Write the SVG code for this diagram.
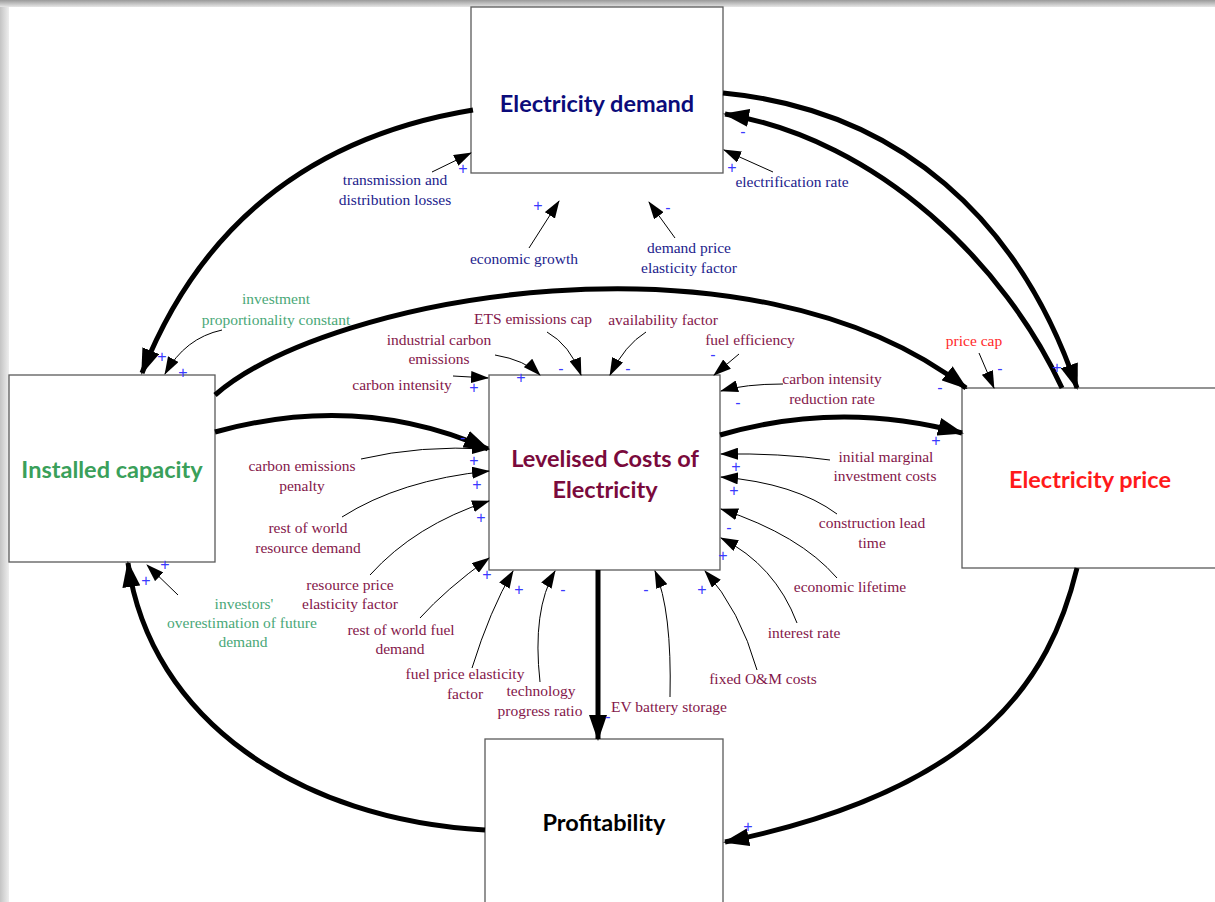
<svg xmlns="http://www.w3.org/2000/svg" width="1215" height="902" viewBox="0 0 1215 902">
<style>
.box{fill:#fff;stroke:#5a5a5a;stroke-width:1.3}
.big{font-family:Lato,"Liberation Sans",sans-serif;font-weight:bold;font-size:23.5px;text-anchor:middle}
.lbl{font-family:"Liberation Serif","Times New Roman",serif;font-size:15.5px;text-anchor:middle}
.navy{fill:#22228c}
.mar{fill:#84174a}
.grn{fill:#4aa878}
.red{fill:#ff2a2a}
.sg{font-family:"Liberation Sans",Arial,sans-serif;font-size:16px;fill:#3a3aff;text-anchor:middle}
.thick{fill:none;stroke:#000;stroke-width:5;marker-end:url(#bigA)}
.thin{fill:none;stroke:#000;stroke-width:1;marker-end:url(#smA)}
</style>
<defs>
<marker id="bigA" markerUnits="userSpaceOnUse" markerWidth="26" markerHeight="18" viewBox="0 0 26 18" refX="24" refY="9" orient="auto">
<path d="M0,0 L26,9 L0,18 Z" fill="#000"/>
</marker>
<marker id="smA" markerUnits="userSpaceOnUse" markerWidth="18" markerHeight="12" viewBox="0 0 18 12" refX="17" refY="6" orient="auto">
<path d="M0,0 L18,6 L0,12 Z" fill="#000"/>
</marker>
<linearGradient id="gTop" x1="0" y1="0" x2="0" y2="1">
<stop offset="0" stop-color="#9a9a9a"/>
<stop offset="1" stop-color="#e6e6e6"/>
</linearGradient>
<linearGradient id="gLeft" x1="0" y1="0" x2="1" y2="0">
<stop offset="0" stop-color="#c4c4c4"/>
<stop offset="1" stop-color="#eeeeee"/>
</linearGradient>
</defs>
<rect x="0" y="0" width="1215" height="902" fill="#fff"/>
<rect x="0" y="0" width="1215" height="7" fill="url(#gTop)"/>
<rect x="0" y="7" width="9" height="895" fill="url(#gLeft)"/>

<g id="node-demand">
<rect class="box" x="471" y="7" width="252" height="166"/>
<text class="big" x="597" y="112" fill="#0b0b7a">Electricity demand</text>
</g>
<g id="node-capacity">
<rect class="box" x="9" y="375" width="206" height="187"/>
<text class="big" x="112" y="478" fill="#3aa05a">Installed capacity</text>
</g>
<g id="node-lcoe">
<rect class="box" x="489" y="375" width="231" height="195"/>
<text class="big" x="605" y="467" fill="#7a0a3c">Levelised Costs of</text>
<text class="big" x="605" y="498" fill="#7a0a3c">Electricity</text>
</g>
<g id="node-price">
<rect class="box" x="962" y="388" width="260" height="180"/>
<text class="big" x="1090" y="488" fill="#ff1a1a">Electricity price</text>
</g>
<g id="node-profit">
<rect class="box" x="485" y="739" width="238" height="170"/>
<text class="big" x="604" y="831" fill="#000">Profitability</text>
</g>

<g id="connectors">
<path class="thick" d="M473,110 Q230,150 142,373"/>
<path class="thick" d="M215,395 C330,295 750,220 966,388"/>
<path class="thick" d="M215,432 Q360,392 488,449"/>
<path class="thick" d="M720,435 Q840,400 962,433"/>
<path class="thick" d="M723,93 C900,110 1020,220 1077,388"/>
<path class="thick" d="M1062,388 C1005,265 880,140 725,114"/>
<path class="thick" d="M1077,568 C1050,680 980,790 725,842"/>
<path class="thick" d="M598,570 L598,739"/>
<path class="thick" d="M485,830 C300,820 150,720 128,563"/>

<path class="thin" d="M432,172 L471,153"/>
<path class="thin" d="M529,248 L559,201"/>
<path class="thin" d="M675,238 L649,202"/>
<path class="thin" d="M773,172 L724,150"/>
<path class="thin" d="M222,330 Q185,338 165,374"/>
<path class="thin" d="M495,355 Q525,360 540,375"/>
<path class="thin" d="M547,332 Q570,345 581,375"/>
<path class="thin" d="M646,332 Q625,345 610,375"/>
<path class="thin" d="M739,354 L714,375"/>
<path class="thin" d="M453,376 L488,378"/>
<path class="thin" d="M783,384 Q745,384 721,391"/>
<path class="thin" d="M979,353 L994,388"/>
<path class="thin" d="M361,459 Q420,445 489,449"/>
<path class="thin" d="M342,517 Q400,480 489,471"/>
<path class="thin" d="M370,575 Q415,525 489,501"/>
<path class="thin" d="M420,618 Q445,590 489,558"/>
<path class="thin" d="M472,668 Q490,610 513,571"/>
<path class="thin" d="M540,682 Q532,610 555,571"/>
<path class="thin" d="M670,697 Q672,610 655,571"/>
<path class="thin" d="M757,670 Q740,610 705,571"/>
<path class="thin" d="M797,623 Q775,565 721,538"/>
<path class="thin" d="M837,578 Q800,535 721,509"/>
<path class="thin" d="M837,514 Q795,483 721,477"/>
<path class="thin" d="M830,460 Q780,453 721,454"/>
<path class="thin" d="M178,595 L147,565"/>
</g>

<g id="labels">
<text class="lbl navy" x="395" y="185">transmission and</text>
<text class="lbl navy" x="395" y="205">distribution losses</text>
<text class="lbl navy" x="524" y="264">economic growth</text>
<text class="lbl navy" x="689" y="253">demand price</text>
<text class="lbl navy" x="689" y="273">elasticity factor</text>
<text class="lbl navy" x="792" y="187">electrification rate</text>
<text class="lbl grn" x="276" y="304">investment</text>
<text class="lbl grn" x="276" y="325">proportionality constant</text>
<text class="lbl mar" x="439" y="345">industrial carbon</text>
<text class="lbl mar" x="439" y="364">emissions</text>
<text class="lbl mar" x="402" y="390">carbon intensity</text>
<text class="lbl mar" x="533" y="324">ETS emissions cap</text>
<text class="lbl mar" x="663" y="325">availability factor</text>
<text class="lbl mar" x="750" y="345">fuel efficiency</text>
<text class="lbl mar" x="832" y="384">carbon intensity</text>
<text class="lbl mar" x="832" y="404">reduction rate</text>
<text class="lbl red" x="974" y="346">price cap</text>
<text class="lbl mar" x="302" y="471">carbon emissions</text>
<text class="lbl mar" x="302" y="491">penalty</text>
<text class="lbl mar" x="308" y="533">rest of world</text>
<text class="lbl mar" x="308" y="553">resource demand</text>
<text class="lbl mar" x="350" y="590">resource price</text>
<text class="lbl mar" x="350" y="609">elasticity factor</text>
<text class="lbl mar" x="401" y="635">rest of world fuel</text>
<text class="lbl mar" x="400" y="654">demand</text>
<text class="lbl grn" x="244" y="609">investors'</text>
<text class="lbl grn" x="242" y="628">overestimation of future</text>
<text class="lbl grn" x="243" y="647">demand</text>
<text class="lbl mar" x="465" y="679">fuel price elasticity</text>
<text class="lbl mar" x="465" y="699">factor</text>
<text class="lbl mar" x="541" y="696">technology</text>
<text class="lbl mar" x="540" y="716">progress ratio</text>
<text class="lbl mar" x="669" y="712">EV battery storage</text>
<text class="lbl mar" x="763" y="684">fixed O&amp;M costs</text>
<text class="lbl mar" x="804" y="638">interest rate</text>
<text class="lbl mar" x="850" y="592">economic lifetime</text>
<text class="lbl mar" x="872" y="528">construction lead</text>
<text class="lbl mar" x="872" y="548">time</text>
<text class="lbl mar" x="886" y="462">initial marginal</text>
<text class="lbl mar" x="885" y="481">investment costs</text>
</g>

<g id="polarities">
<text class="sg" x="463" y="174">+</text>
<text class="sg" x="538" y="211">+</text>
<text class="sg" x="668" y="213">-</text>
<text class="sg" x="732" y="173">+</text>
<text class="sg" x="743" y="137">-</text>
<text class="sg" x="162" y="362">+</text>
<text class="sg" x="183" y="378">+</text>
<text class="sg" x="521" y="383">+</text>
<text class="sg" x="561" y="374">-</text>
<text class="sg" x="628" y="374">-</text>
<text class="sg" x="713" y="360">-</text>
<text class="sg" x="474" y="393">+</text>
<text class="sg" x="738" y="408">-</text>
<text class="sg" x="940" y="393">-</text>
<text class="sg" x="1000" y="374">-</text>
<text class="sg" x="1057" y="373">+</text>
<text class="sg" x="463" y="443">-</text>
<text class="sg" x="474" y="466">+</text>
<text class="sg" x="477" y="490">+</text>
<text class="sg" x="481" y="523">+</text>
<text class="sg" x="487" y="580">+</text>
<text class="sg" x="519" y="595">+</text>
<text class="sg" x="563" y="595">-</text>
<text class="sg" x="646" y="595">-</text>
<text class="sg" x="702" y="595">+</text>
<text class="sg" x="723" y="561">+</text>
<text class="sg" x="729" y="533">-</text>
<text class="sg" x="734" y="496">+</text>
<text class="sg" x="736" y="472">+</text>
<text class="sg" x="936" y="446">+</text>
<text class="sg" x="165" y="570">+</text>
<text class="sg" x="146" y="586">+</text>
<text class="sg" x="608" y="722">-</text>
<text class="sg" x="748" y="832">+</text>
</g>
</svg>
